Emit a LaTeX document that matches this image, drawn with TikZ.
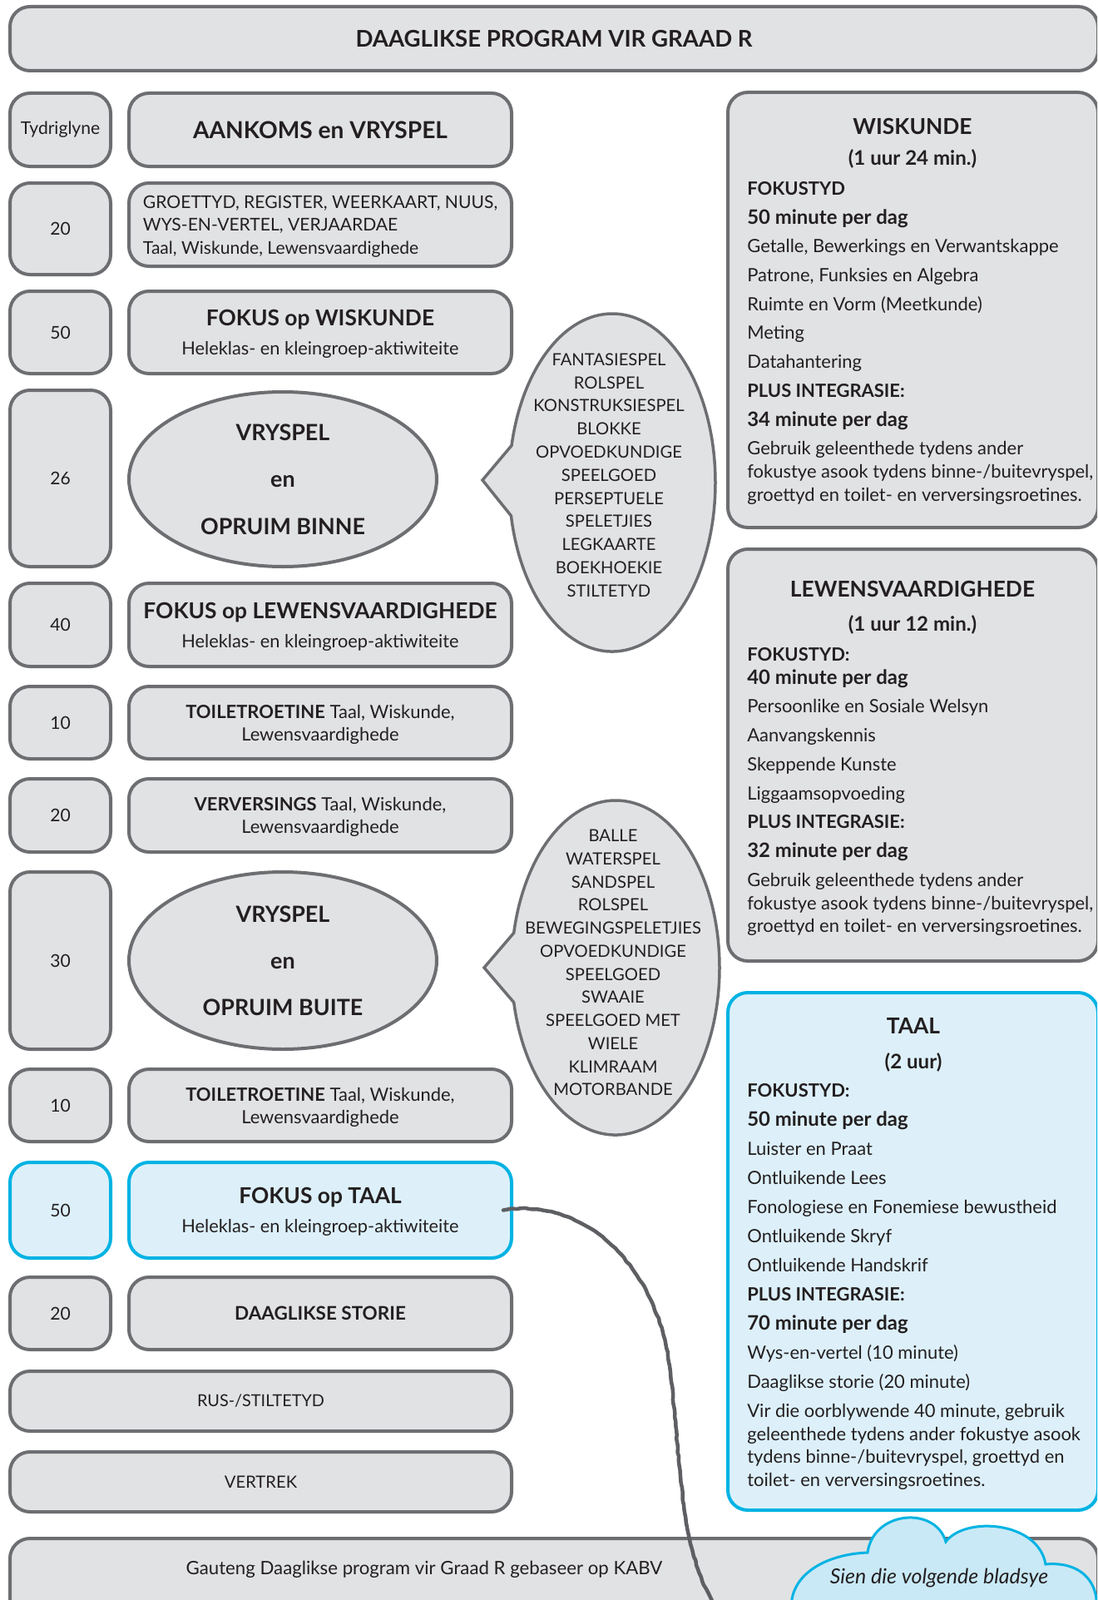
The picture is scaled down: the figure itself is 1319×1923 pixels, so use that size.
\documentclass[tikz,border=0pt]{standalone}
\usepackage{fontspec}
\setmainfont{Lato}
\usetikzlibrary{shapes.geometric,shapes.callouts,decorations.pathmorphing}
\definecolor{lyngrys}{HTML}{6D6E71}
\definecolor{vakgrys}{HTML}{E1E2E4}
\definecolor{taalblou}{HTML}{00B3E3}
\definecolor{ligblou}{HTML}{DDF0FA}
\definecolor{wolkblou}{HTML}{C9E9F6}
\definecolor{teks}{HTML}{231F20}
\newcommand{\pxu}{0.02cm}
\newcommand{\vetkop}[1]{{\bfseries\fontsize{15}{20}\selectfont #1}}
\newcommand{\vetreel}[1]{{\bfseries\fontsize{13.6}{19.75}\selectfont #1}}
\begin{document}
\begin{tikzpicture}[x=0.02cm,y=-0.02cm,
  vak/.style={draw=lyngrys,fill=vakgrys,line width=4*\pxu,rounded corners=24*\pxu,inner sep=0pt,text=teks,align=center},
  taalrand/.style={draw=taalblou,fill=ligblou},
  tyd/.style={vak,minimum width=121*\pxu,font=\fontsize{12}{14}\selectfont},
  blok/.style={vak,minimum width=460*\pxu,text depth=-1.6pt,font=\fontsize{12.4}{20}\selectfont},
  roetine/.style={font=\fontsize{12.5}{15.3}\selectfont},
  ovaal/.style={ellipse,draw=lyngrys,fill=vakgrys,line width=4*\pxu,inner sep=0pt,text=teks,align=center,text depth=-1.2pt,font=\bfseries\fontsize{15.3}{32}\selectfont},
  borrel/.style={ellipse callout,draw=lyngrys,fill=vakgrys,line width=3.5*\pxu,inner sep=0pt,callout pointer arc=24},
  speellys/.style={align=center,text=teks,inner sep=0pt,font=\fontsize{11.5}{15.8}\selectfont},
  kop/.style={text=teks,inner sep=0pt,font=\bfseries\fontsize{15}{18}\selectfont},
  subkop/.style={text=teks,inner sep=0pt,font=\bfseries\fontsize{13.7}{16}\selectfont},
  lys/.style={anchor=north west,align=left,inner sep=0pt,text=teks,font=\fontsize{12.5}{19.75}\selectfont},
  potlood/.style={draw=lyngrys!110,line width=4.5*\pxu,line cap=round,decorate,decoration={random steps,segment length=3pt,amplitude=0.4pt},rounded corners=0.6pt},
  wolk/.style={draw=taalblou,fill=wolkblou,line width=3*\pxu}]
\useasboundingbox (0,0) rectangle (1319,1923);
\clip (0,0) rectangle (1319,1923);

\node (titel) at (666,46.5) [vak,minimum width=1308*\pxu,minimum height=77*\pxu,font=\bfseries\fontsize{15.7}{18}\selectfont] {DAAGLIKSE PROGRAM VIR GRAAD R};

\node (tyd1) at (72.5,156) [tyd,minimum height=88*\pxu] {Tydriglyne};
\node (aankoms) at (385,156) [blok,minimum height=88*\pxu,font=\bfseries\fontsize{16}{19}\selectfont] {AANKOMS en VRYSPEL};
\node (tyd2) at (72.5,275) [tyd,minimum height=110*\pxu] {20};
\node (groet) at (385,270) [blok,minimum height=100*\pxu,align=left,font=\fontsize{12}{15.6}\selectfont] {GROETTYD, REGISTER, WEERKAART, NUUS,\\WYS-EN-VERTEL, VERJAARDAE\\Taal, Wiskunde, Lewensvaardighede};
\node (tyd3) at (72.5,399.5) [tyd,minimum height=99*\pxu] {50};
\node (fokuswisk) at (385,399.5) [blok,minimum height=99*\pxu] {\vetkop{FOKUS op WISKUNDE}\\Heleklas- en kleingroep-aktiwiteite};
\node (tyd4) at (72.5,575) [tyd,minimum height=212*\pxu] {26};
\node (binne) at (340,576) [ovaal,minimum width=370*\pxu,minimum height=210*\pxu] {VRYSPEL\\en\\OPRUIM BINNE};
\node (tyd5) at (72.5,751) [tyd,minimum height=100*\pxu] {40};
\node (fokuslewe) at (385,751) [blok,minimum height=100*\pxu] {\vetkop{FOKUS op LEWENSVAARDIGHEDE}\\Heleklas- en kleingroep-aktiwiteite};
\node (tyd6) at (72.5,868.5) [tyd,minimum height=87*\pxu] {10};
\node (toilet1) at (385,868.5) [blok,roetine,minimum height=87*\pxu] {\textbf{TOILETROETINE} Taal, Wiskunde,\\Lewensvaardighede};
\node (tyd7) at (72.5,980) [tyd,minimum height=88*\pxu] {20};
\node (verversing) at (385,980) [blok,roetine,minimum height=88*\pxu] {\textbf{VERVERSINGS} Taal, Wiskunde,\\Lewensvaardighede};
\node (tyd8) at (72.5,1154.5) [tyd,minimum height=213*\pxu] {30};
\node (buite) at (340,1154.5) [ovaal,minimum width=370*\pxu,minimum height=213*\pxu] {VRYSPEL\\en\\OPRUIM BUITE};
\node (tyd9) at (72.5,1328.5) [tyd,minimum height=87*\pxu] {10};
\node (toilet2) at (385,1328.5) [blok,roetine,minimum height=87*\pxu] {\textbf{TOILETROETINE} Taal, Wiskunde,\\Lewensvaardighede};
\node (tyd10) at (72.5,1454.5) [tyd,taalrand,minimum height=115*\pxu] {50};
\node (fokustaal) at (385,1454.5) [blok,taalrand,minimum height=115*\pxu] {\vetkop{FOKUS op TAAL}\\Heleklas- en kleingroep-aktiwiteite};
\node (tyd11) at (72.5,1578.5) [tyd,minimum height=87*\pxu] {20};
\node (storie) at (385,1578.5) [blok,minimum height=87*\pxu,font=\bfseries\fontsize{12.8}{14}\selectfont] {DAAGLIKSE STORIE};
\node (rus) at (313.5,1684) [vak,minimum width=603*\pxu,minimum height=72*\pxu,font=\fontsize{11.3}{14}\selectfont] {RUS-/STILTETYD};
\node (vertrek) at (313.5,1781) [vak,minimum width=603*\pxu,minimum height=72*\pxu,font=\fontsize{11.5}{14}\selectfont] {VERTREK};

\coordinate (binnepunt) at (580,577);
\node (binneborrel) at (736,580) [borrel,minimum width=248*\pxu,minimum height=406*\pxu,callout absolute pointer=(binnepunt)] {};
\node (binnelys) at (732,571) [speellys] {FANTASIESPEL\\ROLSPEL\\KONSTRUKSIESPEL\\BLOKKE\\OPVOEDKUNDIGE\\SPEELGOED\\PERSEPTUELE\\SPELETJIES\\LEGKAARTE\\BOEKHOEKIE\\STILTETYD};
\coordinate (buitepunt) at (582,1163);
\node (buiteborrel) at (740,1163) [borrel,minimum width=250*\pxu,minimum height=402*\pxu,callout absolute pointer=(buitepunt)] {};
\node (buitelys) at (737,1157) [speellys] {BALLE\\WATERSPEL\\SANDSPEL\\ROLSPEL\\BEWEGINGSPELETJIES\\OPVOEDKUNDIGE\\SPEELGOED\\SWAAIE\\SPEELGOED MET\\WIELE\\KLIMRAAM\\MOTORBANDE};

\node (wisk) at (1097.5,372.5) [vak,minimum width=445*\pxu,minimum height=523*\pxu] {};
\node (wiskkop) at (1097,152) [kop] {WISKUNDE};
\node (wiskuur) at (1097,191) [subkop] {(1 uur 24 min.)};
\node (wisklys) at (898,218) [lys] {\textbf{FOKUSTYD}\\
\vetreel{50 minute per dag}\\
Getalle, Bewerkings en Verwantskappe\\
Patrone, Funksies en Algebra\\
Ruimte en Vorm (Meetkunde)\\
Meting\\
Datahantering\\
\textbf{PLUS INTEGRASIE:}\\
\vetreel{34 minute per dag}\\
Gebruik geleenthede tydens ander\\[-3.9pt]
fokustye asook tydens binne-/buitevryspel,\\[-3.9pt]
groettyd en toilet- en verversingsroetines.};

\node (lewe) at (1097.5,907.5) [vak,minimum width=445*\pxu,minimum height=495*\pxu] {};
\node (lewekop) at (1097,708) [kop] {LEWENSVAARDIGHEDE};
\node (leweuur) at (1097,751) [subkop] {(1 uur 12 min.)};
\node (lewelys) at (898,778) [lys] {\textbf{FOKUSTYD:}\\[-3.9pt]
\vetreel{40 minute per dag}\\
Persoonlike en Sosiale Welsyn\\
Aanvangskennis\\
Skeppende Kunste\\
Liggaamsopvoeding\\
\textbf{PLUS INTEGRASIE:}\\
\vetreel{32 minute per dag}\\
Gebruik geleenthede tydens ander\\[-3.9pt]
fokustye asook tydens binne-/buitevryspel,\\[-3.9pt]
groettyd en toilet- en verversingsroetines.};

\node (taal) at (1097.5,1504) [vak,taalrand,minimum width=445*\pxu,minimum height=622*\pxu] {};
\node (taalkop) at (1098,1233) [kop] {TAAL};
\node (taaluur) at (1098,1277) [subkop] {(2 uur)};
\node (taallys) at (898,1302) [lys,font=\fontsize{12.5}{19.95}\selectfont] {\textbf{FOKUSTYD:}\\
\vetreel{50 minute per dag}\\
Luister en Praat\\
Ontluikende Lees\\
Fonologiese en Fonemiese bewustheid\\
Ontluikende Skryf\\
Ontluikende Handskrif\\
\textbf{PLUS INTEGRASIE:}\\
\vetreel{70 minute per dag}\\
Wys-en-vertel (10 minute)\\
Daaglikse storie (20 minute)\\
Vir die oorblywende 40 minute, gebruik\\[-4.3pt]
geleenthede tydens ander fokustye asook\\[-4.3pt]
tydens binne-/buitevryspel, groettyd en\\[-4.3pt]
toilet- en verversingsroetines.};

\node (voet) at (666,1949) [vak,minimum width=1308*\pxu,minimum height=200*\pxu] {};
\node (voetteks) at (510,1886) [text=teks,inner sep=0pt,font=\fontsize{12.65}{15}\selectfont] {Gauteng Daaglikse program vir Graad R gebaseer op KABV};

\coordinate (potloodend) at (862,1935);
\draw[potlood] ([xshift=-12*\pxu]fokustaal.east) .. controls (700,1438) and (792,1520) .. (806,1650) .. controls (819,1760) and (816,1860) .. (potloodend);

\filldraw[wolk] (952,1940) .. controls (945,1895) and (990,1868) .. (1043,1866) .. controls (1050,1815) and (1125,1810) .. (1137,1853) .. controls (1160,1822) and (1248,1828) .. (1257,1880) .. controls (1302,1876) and (1324,1905) .. (1317,1940) -- cycle;
\node (wolkteks) at (1129,1897) [text=teks,inner sep=0pt,font=\itshape\fontsize{14.2}{16}\selectfont] {Sien die volgende bladsye};
\end{tikzpicture}
\end{document}
